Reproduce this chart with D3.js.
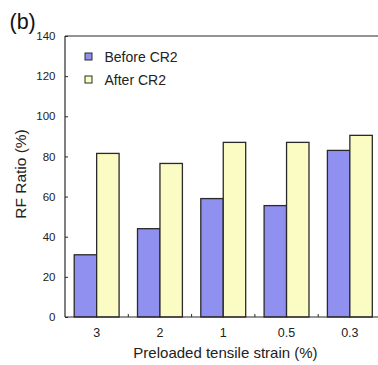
<!DOCTYPE html>
<html>
<head>
<meta charset="utf-8">
<script src="https://cdn.jsdelivr.net/npm/d3@7"></script>
<style>
  html, body { margin: 0; padding: 0; background: #fff; }
  svg { display: block; font-family: "Liberation Sans", Arial, Helvetica, sans-serif; }
</style>
</head>
<body>
<svg id="chart" width="378" height="365"></svg>
<script>
// Preloaded tensile strain levels (%)
const categories = ["3", "2", "1", "0.5", "0.3"];
// RF ratio (%) before and after CR2
const beforeCR2 = [31, 44, 59, 55.5, 83];
const afterCR2 = [81.5, 76.5, 87, 87, 90.5];
const seriesNames = ["Before CR2", "After CR2"];
const yTicks = [0, 20, 40, 60, 80, 100, 120, 140];

const colors = { "Before CR2": "#9090f0", "After CR2": "#fbfbc4" };
const ink = "#2a2a2a";

const svg = d3.select("#chart");
const margin = { left: 65, top: 36, bottom: 317, right: 381.5 };

const x = d3.scaleBand().domain(categories).range([margin.left, margin.right]).padding(0);
const xInner = d3.scaleBand().domain(seriesNames)
  .range([0, x.bandwidth()]).paddingOuter(0.41).paddingInner(0);
const y = d3.scaleLinear().domain([0, 140]).range([margin.bottom, margin.top]);

const rows = categories.map((c, i) => ({ cat: c, values: [
  { name: "Before CR2", v: beforeCR2[i] },
  { name: "After CR2", v: afterCR2[i] }
]}));

// bars
const g = svg.append("g");
rows.forEach(r => {
  g.selectAll(null).data(r.values).enter().append("rect")
    .attr("x", d => x(r.cat) + xInner(d.name))
    .attr("y", d => y(d.v))
    .attr("width", xInner.bandwidth())
    .attr("height", d => y(0) - y(d.v))
    .attr("fill", d => colors[d.name])
    .attr("stroke", ink)
    .attr("stroke-width", 1.3);
});

// frame: left, top and bottom lines
svg.append("line").attr("x1", margin.left).attr("x2", margin.left)
  .attr("y1", margin.top).attr("y2", margin.bottom).attr("stroke", ink).attr("stroke-width", 1.2);
svg.append("line").attr("x1", margin.left).attr("x2", margin.right)
  .attr("y1", margin.top).attr("y2", margin.top).attr("stroke", ink).attr("stroke-width", 1.2);
svg.append("line").attr("x1", margin.left).attr("x2", margin.right)
  .attr("y1", margin.bottom).attr("y2", margin.bottom).attr("stroke", ink).attr("stroke-width", 1.2);

// y axis with inward ticks
const yAxis = svg.append("g").attr("transform", `translate(${margin.left},0)`)
  .call(d3.axisLeft(y).tickValues(yTicks).tickSizeInner(-3).tickSizeOuter(0).tickPadding(9.5));
yAxis.select(".domain").remove();
yAxis.selectAll(".tick line").attr("stroke", ink);
yAxis.selectAll(".tick text").attr("font-size", 11.5).attr("fill", "#222")
  .attr("font-family", "Liberation Sans, Arial, sans-serif");

// x axis: labels at category centres, inward ticks between groups
const xAxis = svg.append("g").attr("transform", `translate(0,${margin.bottom})`)
  .call(d3.axisBottom(x).tickSize(0).tickPadding(11));
xAxis.select(".domain").remove();
xAxis.selectAll(".tick text").attr("font-size", 12.5).attr("fill", "#222")
  .attr("font-family", "Liberation Sans, Arial, sans-serif");
categories.slice(1).forEach(c => {
  svg.append("line").attr("x1", x(c)).attr("x2", x(c))
    .attr("y1", margin.bottom).attr("y2", margin.bottom - 3)
    .attr("stroke", ink).attr("stroke-width", 1);
});

// axis titles
svg.append("text").attr("x", 225.5).attr("y", 358)
  .attr("text-anchor", "middle").attr("font-size", 15).attr("fill", "#222")
  .text("Preloaded tensile strain (%)");
svg.append("text").attr("transform", "translate(25.5,174) rotate(-90)")
  .attr("text-anchor", "middle").attr("font-size", 15.5).attr("fill", "#222")
  .text("RF Ratio (%)");

// panel label
svg.append("text").attr("x", 9.5).attr("y", 29).attr("font-size", 21.5).attr("fill", "#111").text("(b)");

// legend
const legend = svg.append("g");
seriesNames.forEach((name, i) => {
  const ly = 57 + i * 23;
  legend.append("rect").attr("x", 85).attr("y", ly - 4).attr("width", 7).attr("height", 7)
    .attr("fill", colors[name]).attr("stroke", ink).attr("stroke-width", 1);
  legend.append("text").attr("x", 104.5).attr("y", ly + 5).attr("font-size", 14)
    .attr("fill", "#222").text(name);
});
</script>
</body>
</html>
